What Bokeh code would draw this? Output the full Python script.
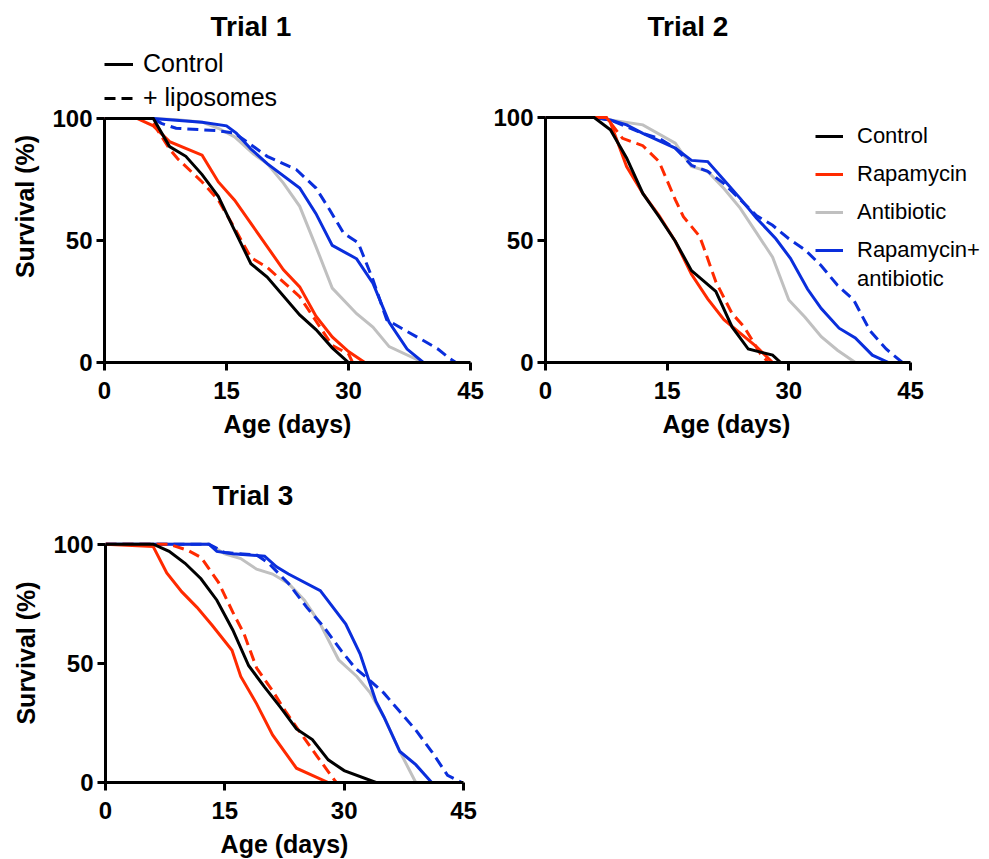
import numpy as np
from bokeh.plotting import figure
from bokeh.models import Range1d, FixedTicker, Legend, LegendItem, Title
from bokeh.layouts import column, row
from bokeh.embed import file_html
from bokeh.resources import INLINE

# ---------------- data ----------------
x_ticks = [0, 15, 30, 45]
y_ticks = [0, 50, 100]

# Trial 1
t1_ctrl_x = [0, 6, 8, 10, 12, 14, 15.8, 18, 20, 24, 26, 28, 30]
t1_ctrl_y = [100, 100, 88.5, 84.5, 77, 68, 55.5, 40.5, 35, 19.5, 13.5, 6, 0]
t1_rapa_x = [0, 4, 6, 8, 12, 14, 16, 18, 22, 24, 26, 28, 30, 32]
t1_rapa_y = [100, 100, 97, 90.5, 85, 74, 66.5, 57, 38, 31, 19, 10.5, 4.5, 0]
t1_rapa_lip_x = [0, 5.5, 6, 8, 9, 12, 14, 16, 18, 20, 24, 26, 28, 30, 30.5]
t1_rapa_lip_y = [100, 100, 98, 87.5, 83.5, 74, 66.5, 55, 43, 39, 27, 17, 7, 3.5, 0]
t1_anti_x = [0, 6, 9, 12, 14, 16, 18.3, 20, 22, 24, 26, 28, 31, 33, 35, 39.2]
t1_anti_y = [100, 100, 99.5, 98.5, 96, 92.5, 85.5, 81.5, 73.5, 64, 47.5, 30.5, 20, 14.5, 6.5, 0]
t1_combo_x = [0, 6, 10, 12, 15, 16.2, 18, 20, 24, 26, 28, 31, 33, 35, 37.2, 39.2]
t1_combo_y = [100, 100, 99, 98.5, 97, 94, 87.5, 81.5, 71.5, 61, 48, 42.5, 32.5, 16.5, 5.5, 0]
t1_combo_lip_x = [0, 6, 7, 8.8, 13.8, 16, 20, 23.6, 26, 27.7, 29.4, 31.2, 33, 34.7, 36.8, 39.2, 41, 42.5, 43.2]
t1_combo_lip_y = [100, 100, 98, 96, 95, 94, 84.5, 79, 71.5, 62.5, 53, 49, 34, 17.5, 13.5, 9, 5.5, 1.5, 0]

# Trial 2
t2_ctrl_x = [0, 6, 8, 10, 12, 14, 16, 18, 21, 23, 25, 28, 29]
t2_ctrl_y = [100, 100, 95, 83.5, 69, 59.5, 49.5, 37.5, 29, 14.5, 5.5, 3, 0]
t2_rapa_x = [0, 7.5, 8, 10, 12, 14, 16, 18, 20, 22, 24, 26, 28]
t2_rapa_y = [100, 100, 98, 80, 69, 60, 49.5, 36, 26, 17.5, 12, 6.5, 0]
t2_rapa_lip_x = [0, 7.5, 9.5, 12, 14, 16, 17, 19, 19.5, 21, 23, 24.5, 26.5, 27.5]
t2_rapa_lip_y = [100, 100, 91.5, 88.5, 82, 66.5, 59.5, 51.5, 47, 33, 20, 14.5, 3.5, 0]
t2_anti_x = [0, 6, 8, 12, 16, 18, 20, 22, 24, 26, 28, 30, 32, 34, 36, 38.2]
t2_anti_y = [100, 100, 99, 97, 89.5, 80, 78, 71, 63, 53, 43, 25.5, 18.5, 10.5, 5, 0]
t2_combo_x = [0, 6, 8, 10, 12, 16, 18, 20, 22, 24, 26, 28.4, 30.2, 32.3, 34, 36.2, 38.2, 40.3, 42.3]
t2_combo_y = [100, 100, 99, 97, 93.5, 87.5, 82.5, 82, 74.5, 67, 59, 50.5, 42.5, 30, 22, 14, 10, 3, 0]
t2_combo_lip_x = [0, 6, 8, 12, 14, 16, 18, 20, 22, 24, 26, 28, 30, 32, 34, 36, 38, 40, 42, 44]
t2_combo_lip_y = [100, 100, 99, 93.5, 91.5, 87.5, 80.5, 78, 73, 66.5, 60, 56, 50.5, 46, 39.5, 31.5, 25.5, 13, 5.5, 0]

# Trial 3
t3_ctrl_x = [0, 6, 8, 10, 12, 14, 16, 18, 20, 22, 24, 26, 28, 30, 34]
t3_ctrl_y = [100, 100, 97, 92, 85.5, 76.5, 64, 49, 40, 31.5, 22.5, 18, 9.5, 5, 0]
t3_rapa_x = [0, 6, 7.7, 9.6, 11.5, 13.4, 15.9, 17, 19, 21, 24, 28]
t3_rapa_y = [100, 99, 88, 80, 73.5, 66, 55.5, 44.5, 33, 20, 6, 0]
t3_rapa_lip_x = [0, 8, 10.3, 12, 14.2, 16, 17.4, 19, 21, 22.7, 25, 26.6, 29]
t3_rapa_lip_y = [100, 100, 97.5, 94.5, 84, 71.5, 62.5, 48, 38.5, 29.5, 18.5, 11, 0]
t3_anti_x = [0, 13, 15, 17, 19, 21, 23, 25, 27, 29.3, 31.6, 33.3, 35, 37, 39]
t3_anti_y = [100, 100, 96, 94, 89.5, 87.5, 83.5, 76.5, 66.5, 51.5, 44.5, 37.5, 27.5, 13, 0]
t3_combo_x = [0, 13, 14, 16, 20, 21.5, 23, 27, 30.2, 32, 34, 35, 37, 39, 41]
t3_combo_y = [100, 100, 97, 96, 95, 90.5, 87.5, 80.5, 66.5, 54, 34, 27.5, 13, 7.5, 0]
t3_combo_lip_x = [0, 13, 15, 19, 20.5, 23, 25.3, 27.4, 29.7, 31.4, 33, 35, 36.8, 39, 41, 43, 44.8]
t3_combo_lip_y = [100, 100, 96.5, 95.5, 92, 83.5, 73.5, 65.5, 55, 48, 43.5, 37.5, 30.5, 22, 13, 3, 0]

series_labels = ["Control", "Rapamycin", "Antibiotic", "Rapamycin+", "antibiotic"]
style_labels = ["Control", "+ liposomes"]
titles = ["Trial 1", "Trial 2", "Trial 3"]
x_label = "Age (days)"
y_label = "Survival (%)"

# ---------------- style ----------------
FONT = "Liberation Sans"
BLACK = "#000000"
RED = "#FF2A00"
GRAY = "#C0C0C0"
BLUE = "#0A2EDC"
LW = 3
DASH = "11 6"


def make_panel(title, title_offset, title_standoff, frame_w, frame_h, x_end, y_end,
               mb_left, mb_right, mb_top, mb_bottom, ylabel, xlabel):
    p = figure(frame_width=frame_w, frame_height=frame_h,
               x_range=Range1d(0, x_end), y_range=Range1d(0, y_end),
               min_border_left=mb_left, min_border_right=mb_right,
               min_border_top=mb_top, min_border_bottom=mb_bottom,
               output_backend="svg", toolbar_location=None)
    p.title = Title(text=title, text_font=FONT, text_font_size="28px",
                    text_font_style="bold", text_color=BLACK,
                    align="left", offset=title_offset, standoff=title_standoff)
    p.xgrid.visible = False
    p.ygrid.visible = False
    p.outline_line_color = None
    p.background_fill_color = None
    p.border_fill_color = None
    p.xaxis.ticker = FixedTicker(ticks=x_ticks)
    p.yaxis.ticker = FixedTicker(ticks=y_ticks)
    p.xaxis.bounds = (0, 45)
    p.yaxis.bounds = (0, 100)
    p.xaxis.axis_label = xlabel
    p.yaxis.axis_label = ylabel
    for ax in (p.xaxis[0], p.yaxis[0]):
        ax.axis_line_width = LW
        ax.axis_line_color = BLACK
        ax.major_tick_line_width = LW
        ax.major_tick_line_color = BLACK
        ax.major_tick_out = 8
        ax.major_tick_in = 0
        ax.minor_tick_line_color = None
        ax.major_label_text_font = FONT
        ax.major_label_text_font_size = "24px"
        ax.major_label_text_font_style = "bold"
        ax.major_label_text_color = BLACK
        ax.axis_label_text_font = FONT
        ax.axis_label_text_font_size = "25px"
        ax.axis_label_text_font_style = "bold"
        ax.axis_label_text_color = BLACK
    p.xaxis.major_label_standoff = 11
    p.yaxis.major_label_standoff = 4
    p.xaxis.axis_label_standoff = 8
    p.yaxis.axis_label_standoff = 10
    return p


def draw_series(p, data):
    rends = {}
    for key, xs, ys, color, dash in data:
        kw = dict(line_color=color, line_width=LW, line_join="miter")
        if dash:
            kw["line_dash"] = DASH
        rends[key] = p.line(xs, ys, **kw)
    return rends


def make_legend(items, loc, size, glyph_w, standoff, spacing):
    return Legend(items=items, location=loc, orientation="vertical",
                  label_text_font=FONT, label_text_font_size=size,
                  label_text_color=BLACK,
                  label_standoff=standoff, glyph_width=glyph_w, glyph_height=20,
                  spacing=spacing, padding=0, margin=0,
                  border_line_alpha=0, background_fill_alpha=0)


NO_DATA = np.array([np.nan])

# Panel 1  (frame: x 104..470, y 50..362)
p1 = make_panel(titles[0], 106, 17, 366, 312, 45, 127.87, 104, 18, 50, 98, y_label, x_label)
r1 = draw_series(p1, [
    ("anti", t1_anti_x, t1_anti_y, GRAY, False),
    ("combo_lip", t1_combo_lip_x, t1_combo_lip_y, BLUE, True),
    ("combo", t1_combo_x, t1_combo_y, BLUE, False),
    ("rapa_lip", t1_rapa_lip_x, t1_rapa_lip_y, RED, True),
    ("rapa", t1_rapa_x, t1_rapa_y, RED, False),
    ("ctrl", t1_ctrl_x, t1_ctrl_y, BLACK, False),
])
lip_key = p1.line(NO_DATA, NO_DATA, line_color=BLACK, line_width=LW, line_dash=DASH)
p1.add_layout(make_legend([LegendItem(label=style_labels[0], renderers=[r1["ctrl"]]),
                           LegendItem(label=style_labels[1], renderers=[lip_key])],
                          (0, 250), "25px", 29, 10, 5), "center")

# Panel 2  (frame: x 545..985, y 50..362)
p2 = make_panel(titles[1], 102, 17, 440, 312, 54.25, 127.35, 57, 4, 50, 98, None, None)
r2 = draw_series(p2, [
    ("anti", t2_anti_x, t2_anti_y, GRAY, False),
    ("combo_lip", t2_combo_lip_x, t2_combo_lip_y, BLUE, True),
    ("combo", t2_combo_x, t2_combo_y, BLUE, False),
    ("rapa_lip", t2_rapa_lip_x, t2_rapa_lip_y, RED, True),
    ("rapa", t2_rapa_x, t2_rapa_y, RED, False),
    ("ctrl", t2_ctrl_x, t2_ctrl_y, BLACK, False),
])
blank_key = p2.line(NO_DATA, NO_DATA, line_alpha=0)
p2.add_layout(make_legend([LegendItem(label=series_labels[0], renderers=[r2["ctrl"]]),
                           LegendItem(label=series_labels[1], renderers=[r2["rapa"]]),
                           LegendItem(label=series_labels[2], renderers=[r2["anti"]]),
                           LegendItem(label=series_labels[3], renderers=[r2["combo"]])],
                          (270, 99), "22px", 28, 14, 12), "center")
p2.add_layout(make_legend([LegendItem(label=series_labels[4], renderers=[blank_key])],
                          (270, 70), "22px", 28, 14, 12), "center")
p2.add_layout(Title(text=x_label, text_font=FONT, text_font_size="25px",
                    text_font_style="bold", text_color=BLACK,
                    align="left", offset=117, standoff=12), "below")

# Panel 3  (frame: x 105..463, y 523..782)
p3 = make_panel(titles[2], 107, 25, 358, 259, 45, 108.7, 105, 20, 63, 76, y_label, x_label)
draw_series(p3, [
    ("anti", t3_anti_x, t3_anti_y, GRAY, False),
    ("combo_lip", t3_combo_lip_x, t3_combo_lip_y, BLUE, True),
    ("combo", t3_combo_x, t3_combo_y, BLUE, False),
    ("rapa_lip", t3_rapa_lip_x, t3_rapa_lip_y, RED, True),
    ("rapa", t3_rapa_x, t3_rapa_y, RED, False),
    ("ctrl", t3_ctrl_x, t3_ctrl_y, BLACK, False),
])

layout = column(row(p1, p2), p3)

with open("out.html", "w") as f:
    f.write(file_html(layout, INLINE))
